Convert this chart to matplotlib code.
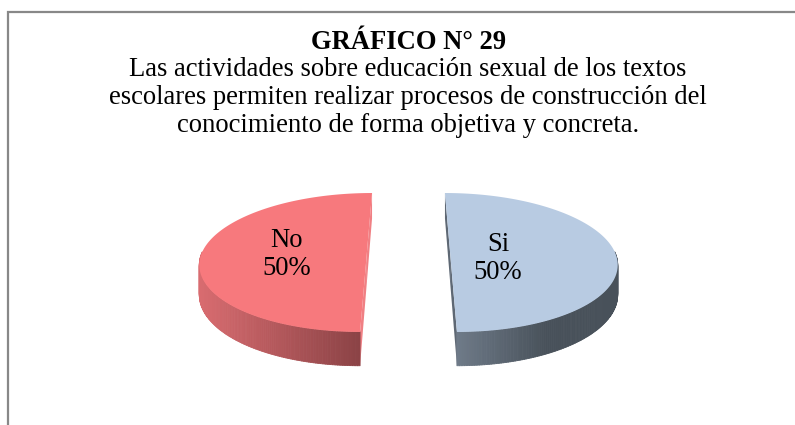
import numpy as np
import matplotlib
matplotlib.use("Agg")
import matplotlib.pyplot as plt
from matplotlib.collections import PolyCollection
from matplotlib.colors import to_rgb

# ---- data ----
categories = ["No", "Si"]
values = [50, 50]
pct_labels = ["50%", "50%"]
title_text = "GRÁFICO N° 29"
subtitle_lines = [
    "Las actividades sobre educación sexual de los textos",
    "escolares permiten realizar procesos de construcción del",
    "conocimiento de forma objetiva y concreta.",
]

# ---- style ----
top_colors = ["#F7797D", "#B8CBE2"]
side_light = ["#D96C70", "#6E7A88"]
side_dark = ["#8C4346", "#48515A"]
cut_colors = ["#F08084", "#5E6874"]
label_r = [0.485, 0.285]
label_v = [-0.03, -0.08]

W, H = 795, 425
fig = plt.figure(figsize=(W / 100, H / 100), dpi=100)
ax = fig.add_axes([0, 0, 1, 1])
ax.set_xlim(0, W)
ax.set_ylim(H, 0)
ax.axis("off")

# frame (cut off on right and bottom)
ax.plot([7.5, 7.5, W + 5], [H + 5, 11.5, 11.5], color="#888888", lw=1.6,
        solid_joinstyle="miter", clip_on=False)

serif = ["Liberation Serif", "DejaVu Serif"]
FS = 19.2
ax.text(409, 42, title_text, ha="center", va="center", fontsize=FS,
        fontweight="bold", family=serif)
for i, line in enumerate(subtitle_lines):
    ax.text(408, 69 + 28 * i, line, ha="center", va="center", fontsize=FS,
            family=serif)

# ---- 3D pie geometry (simple perspective) ----
X0, YH = 408.5, 252.7
R = 165.0
B = 68.1          # vertical semi-axis factor of top ellipse
K = 0.141         # perspective factor
HGT = 29.0        # thickness
EXPL = 41.6       # explosion distance


def proj(u, v, down=0.0):
    s = 1.0 / (1 + K * v / R)
    return X0 + u * s, YH - v * B / R * s + down * s


total = float(sum(values))
start = 90.0
for i, (cat, val) in enumerate(zip(categories, values)):
    a0 = start
    a1 = start + 360.0 * val / total
    start = a1
    mid = np.deg2rad((a0 + a1) / 2)
    eu, ev = EXPL * np.cos(mid), EXPL * np.sin(mid)
    th = np.deg2rad(np.linspace(a0, a1, 241))
    us = eu + R * np.cos(th)
    vs = ev + R * np.sin(th)
    top = [proj(u, v) for u, v in zip(us, vs)]
    bot = [proj(u, v, HGT) for u, v in zip(us, vs)]
    cpt = proj(eu, ev)

    # cut faces (radial planes)
    for ang in (a0, a1):
        t = np.deg2rad(ang)
        pu, pv = eu + R * np.cos(t), ev + R * np.sin(t)
        quad = [proj(eu, ev), proj(pu, pv), proj(pu, pv, HGT), proj(eu, ev, HGT)]
        ax.add_patch(plt.Polygon(quad, closed=True, fc=cut_colors[i], ec="none"))

    # outer side, front part only
    polys, xs_front = [], []
    for j in range(len(th) - 1):
        s = np.sin(th[j]) + np.sin(th[j + 1])
        if s < 0.02:
            polys.append([top[j], top[j + 1], bot[j + 1], bot[j]])
            xs_front.append((top[j][0] + top[j + 1][0]) / 2)
    if polys:
        xs_front = np.array(xs_front)
        lo, hi = xs_front.min(), xs_front.max()
        cl, cd = np.array(to_rgb(side_light[i])), np.array(to_rgb(side_dark[i]))
        cols = []
        for x in xs_front:
            tt = (x - lo) / (hi - lo + 1e-9)
            if i == 1:
                tt = min(1.0, tt * 1.8)
            cols.append(tuple(cl * (1 - tt) + cd * tt))
        pc = PolyCollection(polys, facecolors=cols, edgecolors=cols, linewidths=0.6)
        ax.add_collection(pc)

    # top face
    poly = [cpt] + top
    ax.add_patch(plt.Polygon(poly, closed=True, fc=top_colors[i], ec="none"))

    # label
    rr = label_r[i] * R
    lx, ly = proj(eu + rr * np.cos(mid), ev + rr * np.sin(mid) + label_v[i] * R)
    ax.text(lx, ly - 14, cat, ha="center", va="center", fontsize=FS, family=serif)
    ax.text(lx, ly + 14, pct_labels[i], ha="center", va="center", fontsize=FS,
            family=serif)

fig.savefig("out.png", dpi=100, facecolor="white")
